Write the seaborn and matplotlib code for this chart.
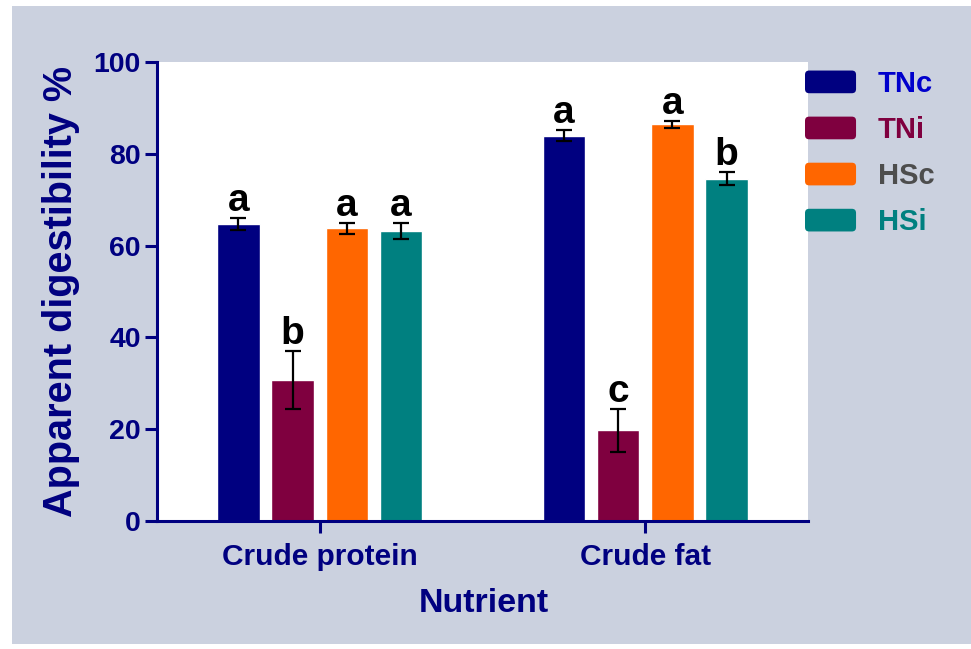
import numpy as np
import pandas as pd
import matplotlib.pyplot as plt
import seaborn as sns
from matplotlib.patches import Patch, Rectangle, FancyBboxPatch
from matplotlib.legend_handler import HandlerPatch

sns.set_theme(style='ticks')
plt.rcParams['font.family'] = ['Liberation Sans', 'DejaVu Sans']
plt.rcParams['font.weight'] = 'bold'

# data
nutrients = ['Crude protein', 'Crude fat']
groups = ['TNc', 'TNi', 'HSc', 'HSi']
tnc_mean = [64.7, 83.9]
tni_mean = [30.7, 19.8]
hsc_mean = [63.8, 86.4]
hsi_mean = [63.2, 74.6]
tnc_err = [1.4, 1.2]
tni_err = [6.3, 4.7]
hsc_err = [1.2, 0.8]
hsi_err = [1.7, 1.5]
tnc_letters = ['a', 'a']
tni_letters = ['b', 'c']
hsc_letters = ['a', 'a']
hsi_letters = ['a', 'b']

bar_colors = ['#000080', '#7f003f', '#ff6600', '#008080']
label_colors = ['#0000cc', '#7f003f', '#4d4d4d', '#008080']
navy = '#000080'

means = [tnc_mean, tni_mean, hsc_mean, hsi_mean]
errs = [tnc_err, tni_err, hsc_err, hsi_err]
letters = [tnc_letters, tni_letters, hsc_letters, hsi_letters]

df = pd.DataFrame({
    'nutrient': nutrients * len(groups),
    'group': np.repeat(groups, len(nutrients)),
    'value': np.concatenate(means),
})

fig = plt.figure(figsize=(9.71, 6.49), dpi=100, facecolor='white')
fig.add_artist(Rectangle((12 / 971, 5 / 649), 959 / 971, 638 / 649,
                         transform=fig.transFigure, facecolor='#cbd1df',
                         edgecolor='none', zorder=-10))
ax = fig.add_axes([157 / 971, 1 - 521 / 649, 651 / 971, 459 / 649])
ax.set_facecolor('white')

sns.barplot(data=df, x='nutrient', y='value', hue='group', order=nutrients,
            hue_order=groups, palette=bar_colors, saturation=1, errorbar=None,
            width=0.667, gap=0.22, legend=False, ax=ax)

for cont, e_list, l_list in zip(ax.containers, errs, letters):
    for bar, e, let in zip(cont, e_list, l_list):
        x = bar.get_x() + bar.get_width() / 2
        h = bar.get_height()
        ax.errorbar(x, h, yerr=e, color='black', elinewidth=1.6, capsize=6,
                    capthick=1.6, zorder=5)
        ax.annotate(let, (x, h + e), xytext=(0, 5), textcoords='offset points',
                    ha='center', va='baseline', fontsize=28, fontweight='bold',
                    color='black')

ax.set_ylim(0, 100)
ax.set_xlim(-0.5, 1.5)
ax.set_yticks([0, 20, 40, 60, 80, 100])
sns.despine(ax=ax)
for s in ['left', 'bottom']:
    ax.spines[s].set_color(navy)
    ax.spines[s].set_linewidth(2.2)
ax.tick_params(axis='both', colors=navy, width=2.2, length=8.6)
ax.tick_params(axis='y', labelsize=20.5, pad=3)
ax.tick_params(axis='x', labelsize=21.5, pad=7)
for t in ax.get_xticklabels() + ax.get_yticklabels():
    t.set_fontweight('bold')

ax.set_ylabel('Apparent digestibility %', fontsize=28.5, fontweight='bold', color=navy)
ax.set_xlabel('Nutrient', fontsize=24.5, fontweight='bold', color=navy)
ax.yaxis.set_label_coords(-0.118, 0.5)
ax.xaxis.set_label_coords(0.502, -0.145)


def round_patch(legend, orig_handle, xdescent, ydescent, width, height, fontsize):
    return FancyBboxPatch((-xdescent, -ydescent), width, height,
                          boxstyle='round,pad=0,rounding_size=3')


handles = [Patch(facecolor=c, edgecolor='none', label=g) for g, c in zip(groups, bar_colors)]
ax.legend(handles=handles, loc='upper left', bbox_to_anchor=(805 / 971, 1 - 70 / 649),
          bbox_transform=fig.transFigure, frameon=False, borderpad=0,
          borderaxespad=0, handlelength=1.75, handleheight=0.82,
          handletextpad=0.75, labelspacing=0.62, labelcolor=label_colors,
          prop={'weight': 'bold', 'size': 21},
          handler_map={Patch: HandlerPatch(patch_func=round_patch)})

fig.savefig('out.png', dpi=100, facecolor='white')
